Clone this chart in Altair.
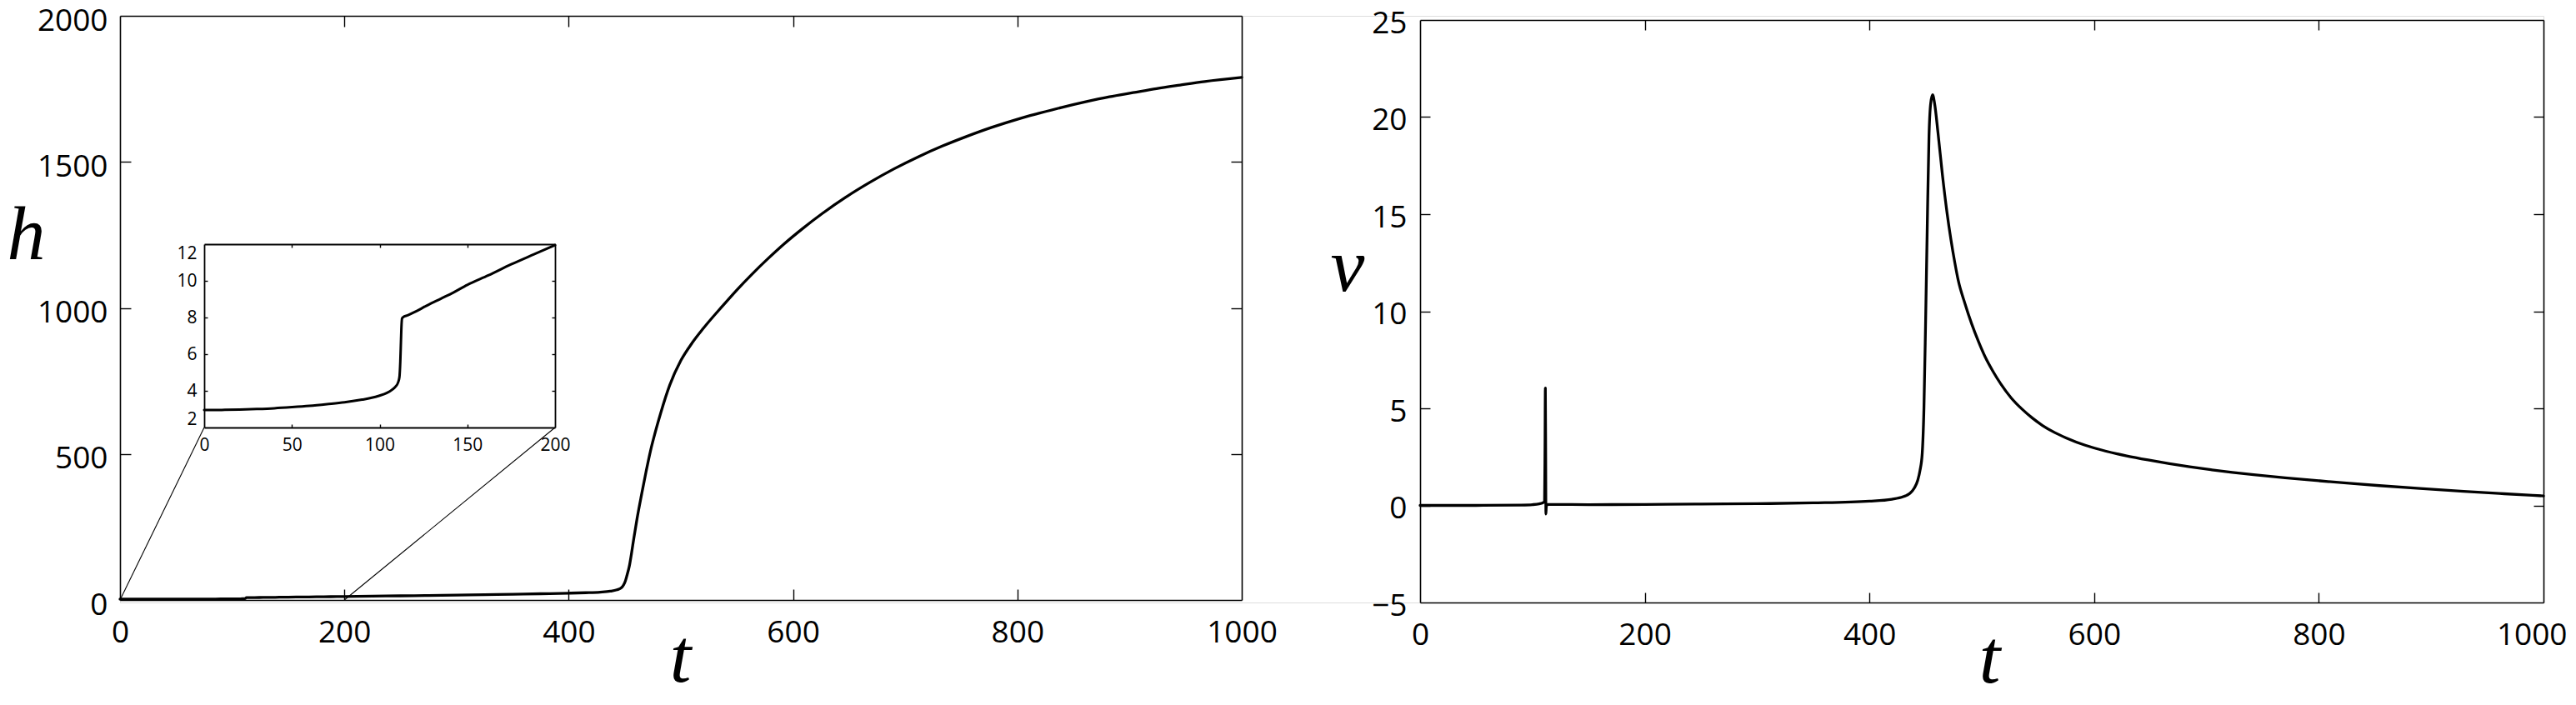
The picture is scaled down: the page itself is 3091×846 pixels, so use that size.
import altair as alt
import pandas as pd

# ---------------- data ----------------
H_T = [0, 10, 20, 30, 40, 50, 60, 70, 80, 90, 95, 100, 104, 107, 109, 110.5, 111.3, 111.8, 112.2, 112.5,
       112.8, 113.4, 116, 120, 127.5, 135, 142, 150, 162, 175, 188, 200,
       225, 250, 275, 300, 325, 350, 375, 400, 415, 428, 437, 443, 447, 449, 450.5, 452, 454, 456,
       458, 461, 465, 469, 473, 477, 482, 490, 500, 510, 520, 537, 550, 563, 578, 592, 608, 626,
       647, 669, 690, 712, 733, 754, 777, 800, 820, 839, 860, 882, 903, 924, 945, 967, 1000]
H_VAL = [2.95, 2.96, 2.98, 3.01, 3.05, 3.11, 3.18, 3.27, 3.37, 3.52, 3.61, 3.74, 3.88, 4.05, 4.22, 4.45, 4.75, 5.6, 6.8, 7.6,
         7.95, 8.02, 8.12, 8.3, 8.68, 9.03, 9.36, 9.78, 10.3, 10.9, 11.45, 11.95,
         13.1, 14.3, 15.5, 16.8, 18.2, 19.7, 21.4, 23.4, 25, 27, 30, 35, 42, 52, 65, 85, 115, 160,
         210, 280, 362, 440, 512, 572, 640, 735, 820, 880, 930, 1006, 1062, 1114, 1170, 1219, 1270, 1323,
         1379, 1431, 1476, 1518, 1554, 1586, 1618, 1646, 1667, 1686, 1705, 1723, 1737, 1751, 1763, 1775, 1789]

V_T = [0, 50, 90, 100, 106, 109, 110.8, 111.2, 111.5, 111.8,
       112.0, 112.3, 113, 120, 150, 200, 250, 300, 350, 400,
       420, 430, 436, 440, 443, 445, 447, 448.5, 450, 451.5,
       453, 454.5, 456.2, 458, 461, 465, 469, 472.5, 476, 479,
       485, 491, 497, 503, 510, 517, 526, 536, 545, 554,
       565, 575, 592, 610, 629, 648, 667, 685, 704, 723,
       742, 770, 800, 827, 854, 890, 929, 965, 1000]
V_VAL = [0.0, 0.0, 0.02, 0.04, 0.08, 0.13, 0.2, 3.0, 6.05, 2.5,
         -0.44, -0.1, 0.05, 0.05, 0.04, 0.05, 0.07, 0.09, 0.13, 0.22,
         0.32, 0.45, 0.62, 0.9, 1.3, 1.8, 2.7, 5.0, 9.5, 14.5,
         19.0, 20.7, 21.15, 20.7, 19.2, 17.0, 15.1, 13.7, 12.5, 11.6,
         10.4, 9.35, 8.45, 7.65, 6.9, 6.25, 5.55, 4.95, 4.5, 4.12,
         3.75, 3.48, 3.1, 2.8, 2.55, 2.34, 2.15, 1.99, 1.84, 1.7,
         1.58, 1.42, 1.27, 1.14, 1.02, 0.87, 0.72, 0.6, 0.49]

H_X_DOMAIN = [0, 1000]
H_Y_DOMAIN = [0, 2000]
V_X_DOMAIN = [0, 1000]
V_Y_DOMAIN = [-5, 25]
INSET_X_DOMAIN = [0, 200]
INSET_Y_DOMAIN = [2, 12]

H_X_TICKS = [0, 200, 400, 600, 800, 1000]
H_Y_TICKS = [0, 500, 1000, 1500, 2000]
V_X_TICKS = [0, 200, 400, 600, 800, 1000]
V_Y_TICKS = [-5, 0, 5, 10, 15, 20, 25]
INSET_X_TICKS = [0, 50, 100, 150, 200]
INSET_Y_TICKS = [2, 4, 6, 8, 10, 12]

X_LABEL = "t"
H_LABEL = "h"
V_LABEL = "v"

# ---------------- layout (pixels, relative to the plotting group) ----------------
W, H = 2908, 704
LEFT = dict(x0=0, x1=1346, ytop=0, ybot=701, tick=13)
RIGHT = dict(x0=1560, x1=2908, ytop=5, ybot=704, tick=12)
INSET = dict(x0=101, x1=522, ytop=274, ybot=494, tick=4)

SANS = "Open Sans"
SERIF = "Liberation Serif"

h_df = pd.DataFrame({"t": H_T, "y": H_VAL})
v_df = pd.DataFrame({"t": V_T, "y": V_VAL})
inset_df = h_df[h_df["t"] <= INSET_X_DOMAIN[1]]


def scales(geo, xdom, ydom):
    xs = alt.Scale(domain=xdom, range=[geo["x0"], geo["x1"]], nice=False, zero=False)
    ys = alt.Scale(domain=ydom, range=[geo["ybot"], geo["ytop"]], nice=False, zero=False)
    return xs, ys


def panel(df, geo, xdom, ydom, xlab, ylab, fs, padx, pady, lw, frame_w,
          xtitle=None, ytitle=None, ylab_offset=0, yflush=False, last_x_shift=None):
    xs, ys = scales(geo, xdom, ydom)
    tk = geo["tick"]
    xin = xlab[1:-1]
    yin = ylab[1:-1]
    common = dict(grid=False, domainColor="black", tickColor="black",
                  labelColor="black", domainWidth=frame_w, tickWidth=1.4,
                  labelFont=SANS, labelFontSize=fs, format="d",
                  labelOverlap=False, labelBound=False)

    xt_kwargs = {}
    if xtitle:
        xt_kwargs = dict(title=xtitle["text"], titleFont=SERIF, titleFontStyle="italic",
                         titleFontWeight="normal", titleFontSize=xtitle["size"],
                         titleColor="black", titleAlign="center", titleBaseline="alphabetic",
                         titleX=xtitle["x"], titleY=xtitle["y"], titleAngle=0)
    yt_kwargs = {}
    if ytitle:
        yt_kwargs = dict(title=ytitle["text"], titleFont=SERIF, titleFontStyle="italic",
                         titleFontWeight="normal", titleFontSize=ytitle["size"],
                         titleColor="black", titleAlign="left", titleBaseline="alphabetic",
                         titleX=ytitle["x"], titleY=ytitle["y"], titleAngle=0)

    xvals = xlab[:-1] if last_x_shift is not None else xlab
    ax_a = alt.Axis(orient="bottom", offset=geo["ybot"] - H, values=xvals, ticks=False,
                    tickSize=0, labelPadding=padx, labelFlush=False, **common, **xt_kwargs)
    ay_a = alt.Axis(orient="left", offset=-geo["x0"], values=ylab, ticks=False,
                    tickSize=0, labelPadding=pady, labelOffset=ylab_offset,
                    labelFlush=yflush, **common, **yt_kwargs)
    if xtitle:
        xa = alt.X("t:Q", scale=xs, axis=ax_a)
    else:
        xa = alt.X("t:Q", scale=xs, axis=ax_a, title=None)
    if ytitle:
        ya = alt.Y("y:Q", scale=ys, axis=ay_a)
    else:
        ya = alt.Y("y:Q", scale=ys, axis=ay_a, title=None)
    layer_a = alt.Chart(df).mark_line(color="black", strokeWidth=lw, interpolate="monotone",
                                      strokeCap="round", strokeJoin="round").encode(x=xa, y=ya)

    # B: top and right frame lines
    layer_b = alt.Chart(df).mark_line(strokeOpacity=0).encode(
        x=alt.X("t:Q", scale=xs, title=None,
                axis=alt.Axis(orient="top", offset=-geo["ytop"], values=[], ticks=False,
                              labels=False, **common)),
        y=alt.Y("y:Q", scale=ys, title=None,
                axis=alt.Axis(orient="right", offset=geo["x1"] - W, values=[], ticks=False,
                              labels=False, **common)))

    # C: inward ticks on bottom and left
    layer_c = alt.Chart(df).mark_line(strokeOpacity=0).encode(
        x=alt.X("t:Q", scale=xs, title=None,
                axis=alt.Axis(orient="bottom", offset=geo["ybot"] - tk - H, values=xin,
                              domain=False, labels=False, tickSize=tk, **common)),
        y=alt.Y("y:Q", scale=ys, title=None,
                axis=alt.Axis(orient="left", offset=-(geo["x0"] + tk), values=yin,
                              domain=False, labels=False, tickSize=tk, **common)))

    # D: inward ticks on top and right
    layer_d = alt.Chart(df).mark_line(strokeOpacity=0).encode(
        x=alt.X("t:Q", scale=xs, title=None,
                axis=alt.Axis(orient="top", offset=-(geo["ytop"] + tk), values=xin,
                              domain=False, labels=False, tickSize=tk, **common)),
        y=alt.Y("y:Q", scale=ys, title=None,
                axis=alt.Axis(orient="right", offset=(geo["x1"] - tk) - W, values=yin,
                              domain=False, labels=False, tickSize=tk, **common)))
    layers = [layer_a, layer_b, layer_c, layer_d]

    # E: last x label kept inside the page edge
    if last_x_shift is not None:
        layer_e = alt.Chart(df).mark_line(strokeOpacity=0).encode(
            x=alt.X("t:Q", scale=xs, title=None,
                    axis=alt.Axis(orient="bottom", offset=geo["ybot"] - H, values=[xlab[-1]],
                                  domain=False, ticks=False, tickSize=0, labelPadding=padx,
                                  labelFlush=True, labelFlushOffset=last_x_shift, **common)),
            y=alt.Y("y:Q", scale=ys, axis=None))
        layers.append(layer_e)
    return layers


left_layers = panel(
    h_df, LEFT, H_X_DOMAIN, H_Y_DOMAIN, H_X_TICKS, H_Y_TICKS, 37, 21, 15, 3.3, 1.6,
    xtitle=dict(text=X_LABEL, size=92, x=672, y=97),
    ytitle=dict(text=H_LABEL, size=92, x=-136, y=291), ylab_offset=6)

right_layers = panel(
    v_df, RIGHT, V_X_DOMAIN, V_Y_DOMAIN, V_X_TICKS, V_Y_TICKS, 37, 21, 16, 3.3, 1.6,
    xtitle=dict(text=X_LABEL, size=92, x=2243, y=95),
    ytitle=dict(text=V_LABEL, size=92, x=-108, y=329), ylab_offset=4, last_x_shift=28)

inset_layers = panel(
    inset_df, INSET, INSET_X_DOMAIN, INSET_Y_DOMAIN, INSET_X_TICKS, INSET_Y_TICKS,
    21, 10, 9, 3.0, 1.8, yflush=True)


# connectors from the zoomed interval on the main axis to the inset corners
def px_to_data(p, a0, a1, d0, d1):
    return d0 + (p - a0) / (a1 - a0) * (d1 - d0)


inset_bottom_h = px_to_data(INSET["ybot"], LEFT["ybot"], LEFT["ytop"], *H_Y_DOMAIN)
conn_df = pd.DataFrame({
    "t0": INSET_X_DOMAIN,
    "h0": [H_Y_DOMAIN[0], H_Y_DOMAIN[0]],
    "t1": [px_to_data(INSET["x0"], LEFT["x0"], LEFT["x1"], *H_X_DOMAIN),
           px_to_data(INSET["x1"], LEFT["x0"], LEFT["x1"], *H_X_DOMAIN)],
    "h1": [inset_bottom_h, inset_bottom_h],
})
lxs, lys = scales(LEFT, H_X_DOMAIN, H_Y_DOMAIN)
connectors = alt.Chart(conn_df).mark_rule(color="black", strokeWidth=1.1).encode(
    x=alt.X("t0:Q", scale=lxs, axis=None),
    y=alt.Y("h0:Q", scale=lys, axis=None),
    x2="t1:Q",
    y2="h1:Q",
)

chart = alt.layer(*left_layers, connectors, *inset_layers, *right_layers).resolve_scale(
    x="independent", y="independent"
).resolve_axis(
    x="independent", y="independent"
).properties(
    width=W, height=H,
    autosize=alt.AutoSizeParams(type="none"),
    padding={"left": 136, "top": 11, "right": 31, "bottom": 115},
).configure_view(stroke=None).configure(background="white")

chart.save("out.html", embed_options={"renderer": "svg", "actions": False})
